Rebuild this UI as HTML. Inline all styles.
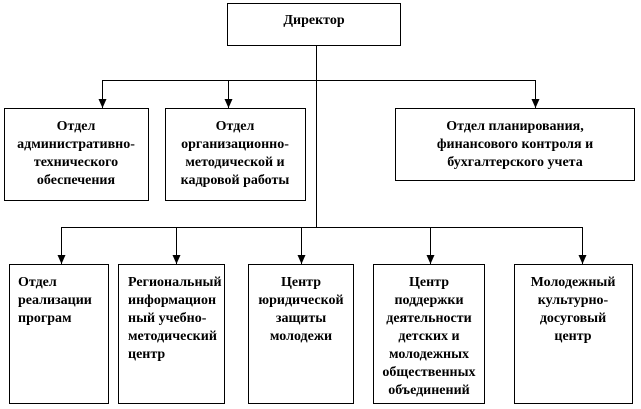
<!DOCTYPE html>
<html><head><meta charset="utf-8"><style>
body{margin:0;background:#fff;}
svg{display:block;}
text{font-family:"Liberation Serif",serif;font-weight:bold;font-size:14px;fill:#000;}
</style></head><body>
<svg width="641" height="409" viewBox="0 0 641 409" xmlns="http://www.w3.org/2000/svg">
<defs><marker id="a" markerWidth="8" markerHeight="9" refX="4" refY="9" markerUnits="userSpaceOnUse"><path d="M0,0 L8,0 L4,9 Z" fill="#000"/></marker></defs>
<g fill="none" stroke="#000" stroke-width="1">
<rect x="227.5" y="3.5" width="173" height="42"/>
<line x1="316.5" y1="45" x2="316.5" y2="227"/>
<line x1="102" y1="80.5" x2="535" y2="80.5"/>
<line x1="102.5" y1="80" x2="102.5" y2="108" marker-end="url(#a)"/>
<line x1="228.5" y1="80" x2="228.5" y2="108" marker-end="url(#a)"/>
<line x1="535.5" y1="80" x2="535.5" y2="108" marker-end="url(#a)"/>
<rect x="4.5" y="108.5" width="144" height="92"/>
<rect x="165.5" y="108.5" width="140" height="92"/>
<rect x="395.5" y="108.5" width="239" height="72"/>
<line x1="61" y1="227.5" x2="582" y2="227.5"/>
<line x1="61.5" y1="227" x2="61.5" y2="264" marker-end="url(#a)"/>
<line x1="176.5" y1="227" x2="176.5" y2="264" marker-end="url(#a)"/>
<line x1="301.5" y1="227" x2="301.5" y2="264" marker-end="url(#a)"/>
<line x1="430.5" y1="227" x2="430.5" y2="264" marker-end="url(#a)"/>
<line x1="582.5" y1="227" x2="582.5" y2="264" marker-end="url(#a)"/>
<rect x="9.5" y="264.5" width="99" height="139"/>
<rect x="118.5" y="264.5" width="106" height="139"/>
<rect x="248.5" y="264.5" width="105" height="139"/>
<rect x="373.5" y="264.5" width="111" height="139"/>
<rect x="514.5" y="264.5" width="118" height="139"/>
</g>
<text x="314" y="24" text-anchor="middle">Директор</text>
<g text-anchor="middle">
<text x="76" y="130">Отдел</text>
<text x="76" y="148">административно-</text>
<text x="76" y="166">технического</text>
<text x="76" y="184">обеспечения</text>
<text x="235" y="130">Отдел</text>
<text x="235" y="148">организационно-</text>
<text x="235" y="166">методической и</text>
<text x="235" y="184">кадровой работы</text>
<text x="515" y="130">Отдел планирования,</text>
<text x="515" y="148">финансового контроля и</text>
<text x="515" y="166">бухгалтерского  учета</text>
<text x="301" y="286">Центр</text>
<text x="301" y="304">юридической</text>
<text x="301" y="322">защиты</text>
<text x="301" y="340">молодежи</text>
<text x="429" y="286">Центр</text>
<text x="429" y="304">поддержки</text>
<text x="429" y="322">деятельности</text>
<text x="429" y="340">детских и</text>
<text x="429" y="358">молодежных</text>
<text x="429" y="376">общественных</text>
<text x="429" y="394">объединений</text>
<text x="573" y="286">Молодежный</text>
<text x="573" y="304">культурно-</text>
<text x="573" y="322">досуговый</text>
<text x="573" y="340">центр</text>
</g>
<text x="18" y="286">Отдел</text>
<text x="18" y="304">реализации</text>
<text x="18" y="322">програм</text>
<text x="128" y="286">Региональный</text>
<text x="128" y="304">информацион</text>
<text x="128" y="322">ный учебно-</text>
<text x="128" y="340">методический</text>
<text x="128" y="358">центр</text>
</svg>
</body></html>
